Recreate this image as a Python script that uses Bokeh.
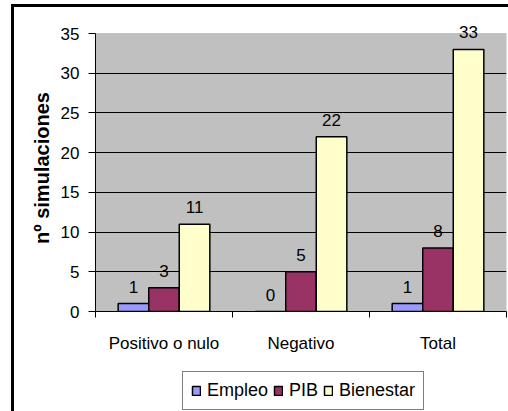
import numpy as np
from bokeh.plotting import figure
from bokeh.layouts import column
from bokeh.models import (ColumnDataSource, FixedTicker, Legend, LegendItem, Range1d,
                          BoxAnnotation)
from bokeh.core.properties import value
from bokeh.embed import file_html
from bokeh.resources import INLINE

categories = ["Positivo o nulo", "Negativo", "Total"]
series_names = ["Empleo", "PIB", "Bienestar"]
empleo = [1, 0, 1]
pib = [3, 5, 8]
bienestar = [11, 22, 33]
y_ticks = [0, 5, 10, 15, 20, 25, 30, 35]
colors = ["#9999FF", "#993366", "#FFFFCC"]

FONT = "Liberation Sans"
Y_MAX = y_ticks[-1]

# frame is a bit taller than the value axis so the top value label is not clipped
p = figure(width=494, height=360, output_backend="svg", toolbar_location=None,
           x_range=Range1d(0, len(categories)), y_range=Range1d(0, Y_MAX * 287 / 278),
           min_border_left=81, min_border_right=2, min_border_top=17, min_border_bottom=56)

p.background_fill_color = "white"
p.border_fill_color = "white"
p.outline_line_color = None

# grey plot area (0..35) with its grey border
p.add_layout(BoxAnnotation(left=0, right=len(categories), bottom=0, top=Y_MAX,
                           fill_color="#C0C0C0", fill_alpha=1,
                           line_color="#808080", line_width=1, level="image"))

# legend strip below the chart
p2 = figure(width=494, height=44, output_backend="svg", toolbar_location=None,
            x_range=p.x_range, y_range=Range1d(0, 1),
            x_axis_location=None, y_axis_location=None, min_border=0)
p2.outline_line_color = None
p2.grid.visible = False
p2.background_fill_color = "white"
p2.border_fill_color = "white"

centers = np.arange(len(categories)) + 0.5
bw = 0.223
offsets = [-bw, 0.0, bw]
items = []
for name, vals, col, off in zip(series_names, [empleo, pib, bienestar], colors, offsets):
    src = ColumnDataSource(dict(x=centers + off, top=vals, lab=[str(v) for v in vals]))
    p.vbar(x="x", top="top", width=bw, source=src, fill_color=col,
           line_color="black", line_width=1.5)
    p.text(x="x", y="top", text="lab", source=src, text_align="center",
           text_baseline="alphabetic", y_offset=-17, text_font=value(FONT),
           text_font_size="17px", text_color="black")
    r2 = p2.vbar(x="x", top="top", width=bw, source=src, fill_color=col,
                 line_color="black", line_width=1.5, visible=False)
    items.append(LegendItem(label=name, renderers=[r2]))

# x axis
xa = p.xaxis[0]
xa.ticker = FixedTicker(ticks=list(centers), minor_ticks=list(range(len(categories) + 1)))
xa.major_label_overrides = {float(c): cat for c, cat in zip(centers, categories)}
xa.major_tick_out = 0
xa.major_tick_in = 0
xa.minor_tick_out = 6
xa.minor_tick_in = 0
xa.minor_tick_line_color = "black"
xa.axis_line_color = "black"
xa.major_label_standoff = 16
xa.major_label_text_font = FONT
xa.major_label_text_font_size = "17px"
xa.major_label_text_color = "black"

# y axis
ya = p.yaxis[0]
ya.ticker = FixedTicker(ticks=y_ticks, minor_ticks=[])
ya.bounds = (0, Y_MAX)
ya.major_tick_out = 7
ya.major_tick_in = 0
ya.major_tick_line_color = "black"
ya.axis_line_color = "black"
ya.major_label_standoff = 9
ya.major_label_text_font = FONT
ya.major_label_text_font_size = "17px"
ya.major_label_text_color = "black"
ya.axis_label = "nº simulaciones"
ya.axis_label_text_font = FONT
ya.axis_label_text_font_size = "20px"
ya.axis_label_text_font_style = "bold"
ya.axis_label_text_color = "black"
ya.axis_label_standoff = 5

p.xgrid.visible = False
p.ygrid.ticker = FixedTicker(ticks=y_ticks[1:-1])
p.ygrid.grid_line_color = "black"
p.ygrid.grid_line_width = 1
p.ygrid.level = "underlay"

legend = Legend(items=items, orientation="horizontal", location=(87, 1),
                click_policy="none")
legend.label_text_font = FONT
legend.label_text_font_size = "18px"
legend.label_text_color = "black"
legend.glyph_width = 10
legend.glyph_height = 11
legend.label_standoff = 6
legend.spacing = 5
legend.padding = 8
legend.margin = 0
legend.border_line_color = "black"
legend.border_line_width = 1
legend.background_fill_color = "white"
legend.background_fill_alpha = 1
legend.inactive_fill_alpha = 0
p2.add_layout(legend)

layout = column(p, p2, spacing=0,
                styles={"margin-top": "4px", "margin-left": "11px",
                        "border-left": "3px solid black", "border-top": "3px solid black"})

open("out.html", "w").write(file_html(layout, INLINE))
